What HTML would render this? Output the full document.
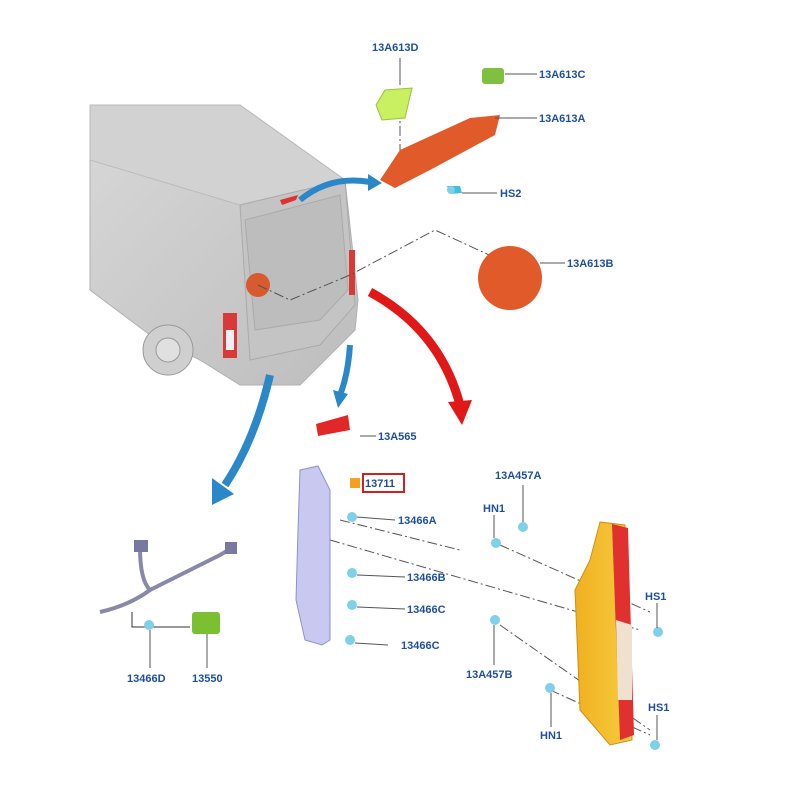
<!DOCTYPE html>
<html><head><style>
html,body{margin:0;padding:0;background:#fff;}
svg{display:block;}
text{font-family:"Liberation Sans",sans-serif;font-weight:bold;font-size:11px;fill:#1f4f9a;}
</style></head><body>
<svg width="800" height="800" viewBox="0 0 800 800" xmlns="http://www.w3.org/2000/svg">
<defs>
<linearGradient id="vg" x1="0" y1="0" x2="1" y2="1"><stop offset="0" stop-color="#d8d8d8"/><stop offset="1" stop-color="#bdbdbd"/></linearGradient>
<linearGradient id="og" x1="0" y1="0" x2="1" y2="0"><stop offset="0" stop-color="#f0b020"/><stop offset="1" stop-color="#f6cc40"/></linearGradient>
</defs>
<!-- van body -->
<polygon points="90,105 240,105 345,180 358,300 355,330 300,385 240,385 200,360 150,335 90,290" fill="url(#vg)" stroke="#b0b0b0"/>
<polygon points="90,105 240,105 345,180 240,205 90,160" fill="#d2d2d2" stroke="#bbb"/>
<polygon points="240,205 345,180 355,305 320,345 250,360" fill="#c4c4c4" stroke="#aaa"/>
<polygon points="245,220 340,195 348,290 320,320 255,330" fill="#bdbdbd" stroke="#aaa"/>
<circle cx="168" cy="350" r="25" fill="#cfcfcf" stroke="#999"/>
<circle cx="168" cy="350" r="12" fill="#e0e0e0" stroke="#999"/>
<rect x="223" y="313" width="14" height="45" fill="#d83a3a"/>
<rect x="226" y="330" width="8" height="20" fill="#f0f0f0"/>
<rect x="349" y="250" width="6" height="45" fill="#d83a3a"/>
<polygon points="280,200 298,195 296,200 282,205" fill="#e03030"/>
<circle cx="258" cy="285" r="12" fill="#d85a30"/>
<!-- dashed lines -->
<g stroke="#555" stroke-width="1" stroke-dasharray="10,3,2,3" fill="none">
<polyline points="258,285 290,300 350,275 435,230 500,260"/>
<line x1="400" y1="90" x2="400" y2="180"/>
<line x1="340" y1="520" x2="460" y2="550"/>
<line x1="330" y1="540" x2="640" y2="630"/>
<line x1="500" y1="545" x2="650" y2="612"/>
<line x1="500" y1="625" x2="650" y2="730"/>
<line x1="550" y1="690" x2="650" y2="735"/>
</g>
<!-- arrows -->
<path d="M300,200 Q330,175 370,182" stroke="#2b88c8" stroke-width="6" fill="none"/>
<polygon points="368,174 382,183 368,191" fill="#2b88c8"/>
<path d="M370,292 Q440,330 460,405" stroke="#e01818" stroke-width="9" fill="none"/>
<polygon points="448,402 462,425 472,400" fill="#e01818"/>
<path d="M350,345 Q348,375 340,395" stroke="#2b88c8" stroke-width="6" fill="none"/>
<polygon points="333,390 338,408 348,394" fill="#2b88c8"/>
<path d="M270,375 Q255,440 225,485" stroke="#2b88c8" stroke-width="8" fill="none"/>
<polygon points="212,478 212,505 234,494" fill="#2b88c8"/>
<!-- top parts -->
<polygon points="385,90 412,88 405,118 382,120 376,105" fill="#c8f060" stroke="#9ac040"/>
<rect x="482" y="68" width="22" height="16" rx="3" fill="#80c040"/>
<polygon points="380,180 400,150 470,118 500,115 495,135 430,170 395,188" fill="#e05a2a"/>
<circle cx="510" cy="278" r="32" fill="#e05a2a"/>
<polygon points="447,186 460,186 462,193 450,194" fill="#40c0d8"/>
<polygon points="316,424 348,415 350,430 318,436" fill="#e02828"/>
<!-- middle bracket -->
<polygon points="300,470 318,466 330,490 330,640 322,645 305,640 296,600 298,530" fill="#c8c8f0" stroke="#9090c8"/>
<rect x="350" y="478" width="10" height="10" fill="#f5a020"/>
<rect x="363" y="474" width="41" height="18" fill="none" stroke="#d02020" stroke-width="2"/>
<g fill="#80d0e8"><circle cx="352" cy="517" r="5"/><circle cx="352" cy="573" r="5"/><circle cx="352" cy="605" r="5"/><circle cx="350" cy="640" r="5"/>
<circle cx="523" cy="527" r="5"/><circle cx="496" cy="543" r="5"/><circle cx="658" cy="632" r="5"/><circle cx="495" cy="620" r="5"/><circle cx="550" cy="688" r="5"/><circle cx="655" cy="745" r="5"/><circle cx="451" cy="190" r="4"/></g>
<!-- lamp -->
<polygon points="600,522 625,525 632,740 610,745 580,710 575,590 590,560" fill="url(#og)" stroke="#d09010"/>
<polygon points="612,524 628,528 634,735 620,740" fill="#e03030"/>
<polygon points="616,620 632,625 632,700 618,700" fill="#f0e0d0"/>
<!-- harness -->
<g stroke="#8888a8" stroke-width="4" fill="none"><path d="M140,548 Q140,580 150,590 Q180,575 220,555 L232,548"/><path d="M150,590 Q130,605 100,612"/></g>
<rect x="134" y="540" width="14" height="12" fill="#7878a0"/>
<rect x="225" y="542" width="12" height="12" fill="#7878a0"/>
<polyline points="132,612 132,627 190,627" stroke="#333" fill="none"/>
<rect x="192" y="612" width="28" height="22" rx="3" fill="#7ac030"/>
<circle cx="149" cy="625" r="5" fill="#80d0e8"/>
<!-- leaders -->
<g stroke="#555" stroke-width="1"><line x1="400" y1="58" x2="400" y2="85"/><line x1="505" y1="74" x2="537" y2="74"/><line x1="495" y1="118" x2="537" y2="118"/><line x1="462" y1="193" x2="497" y2="193"/><line x1="540" y1="263" x2="565" y2="263"/>
<line x1="360" y1="436" x2="376" y2="436"/><line x1="357" y1="517" x2="395" y2="520"/><line x1="357" y1="575" x2="405" y2="577"/><line x1="357" y1="607" x2="405" y2="609"/><line x1="355" y1="643" x2="388" y2="645"/>
<line x1="523" y1="485" x2="523" y2="522"/><line x1="494" y1="515" x2="494" y2="538"/><line x1="657" y1="603" x2="657" y2="628"/><line x1="494" y1="625" x2="494" y2="665"/><line x1="150" y1="630" x2="150" y2="668"/><line x1="207" y1="634" x2="207" y2="668"/><line x1="657" y1="715" x2="657" y2="740"/><line x1="551" y1="693" x2="551" y2="727"/></g>
<text x="372" y="51">13A613D</text>
<text x="539" y="78">13A613C</text>
<text x="539" y="122">13A613A</text>
<text x="500" y="197">HS2</text>
<text x="567" y="267">13A613B</text>
<text x="378" y="440">13A565</text>
<text x="365" y="487">13711</text>
<text x="495" y="479">13A457A</text>
<text x="483" y="512">HN1</text>
<text x="398" y="524">13466A</text>
<text x="407" y="581">13466B</text>
<text x="407" y="613">13466C</text>
<text x="401" y="649">13466C</text>
<text x="645" y="600">HS1</text>
<text x="466" y="678">13A457B</text>
<text x="127" y="682">13466D</text>
<text x="192" y="682">13550</text>
<text x="648" y="711">HS1</text>
<text x="540" y="739">HN1</text>
</svg>
</body></html>
